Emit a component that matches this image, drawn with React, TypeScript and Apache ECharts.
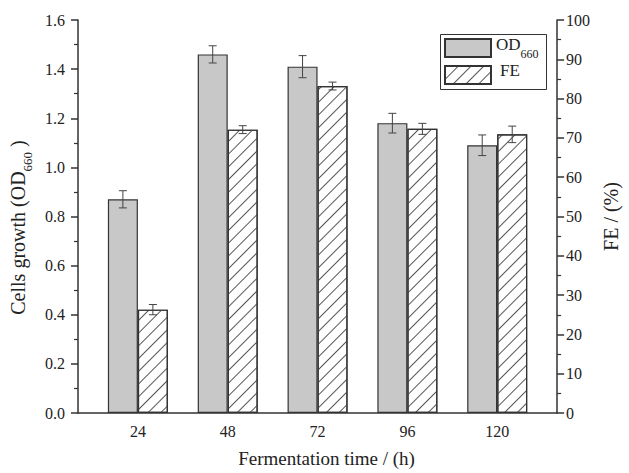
import React, { useEffect, useRef } from 'react';
import * as echarts from 'echarts';

const hours = [24, 48, 72, 96, 120];
const odValues = [0.87, 1.46, 1.41, 1.18, 1.09];
const odErrors = [0.035, 0.035, 0.045, 0.04, 0.042];
const feValues = [26.3, 72.1, 83.2, 72.3, 70.9];
const feErrors = [1.3, 1.0, 1.0, 1.4, 2.1];
const leftTicks = [0, 0.2, 0.4, 0.6, 0.8, 1.0, 1.2, 1.4, 1.6];
const rightTicks = [0, 10, 20, 30, 40, 50, 60, 70, 80, 90, 100];

const FONT = 'Liberation Serif';
const INK = '#333';
const TXT = '#222';
const BAR_W = 30;

function errorSeries(name: string, yAxisIndex: number, vals: number[], errs: number[], offset: number) {
  return {
    type: 'custom',
    name,
    xAxisIndex: 0,
    yAxisIndex,
    z: 10,
    silent: true,
    data: hours.map((h, i) => [h, vals[i], errs[i]]),
    renderItem: (params: any, api: any) => {
      const x = api.value(0);
      const y = api.value(1);
      const e = api.value(2);
      const top = api.coord([x, y + e]);
      const bot = api.coord([x, y - e]);
      const cx = top[0] + offset;
      const style = { stroke: '#444', lineWidth: 1 };
      return {
        type: 'group',
        children: [
          { type: 'line', shape: { x1: cx, y1: top[1], x2: cx, y2: bot[1] }, style },
          { type: 'line', shape: { x1: cx - 4, y1: top[1], x2: cx + 4, y2: top[1] }, style },
          { type: 'line', shape: { x1: cx - 4, y1: bot[1], x2: cx + 4, y2: bot[1] }, style },
        ],
      };
    },
  };
}

export default function App() {
  const ref = useRef<HTMLDivElement>(null);
  useEffect(() => {
    if (!ref.current) return;
    const chart = echarts.init(ref.current, null, { renderer: 'svg' });
    const axisLine = { show: true, lineStyle: { color: INK, width: 1.5 } };
    chart.setOption({
      animation: false,
      backgroundColor: '#fff',
      textStyle: { fontFamily: FONT, color: TXT },
      grid: { left: 76, right: 65, top: 20, bottom: 56 },
      legend: {
        orient: 'vertical',
        left: 438,
        top: 32,
        itemWidth: 46,
        itemHeight: 18,
        itemGap: 7,
        icon: 'rect',
        padding: [6, 0, 0, 6],
        data: ['OD660', 'FE'],
        formatter: () => '',
        textStyle: { fontSize: 1 },
      },
      graphic: [
        {
          type: 'rect',
          left: 438,
          top: 32,
          shape: { width: 106, height: 55 },
          style: { fill: 'none', stroke: INK, lineWidth: 1 },
          silent: true,
        },
        {
          type: 'text',
          left: 496,
          top: 36,
          style: {
            text: '{main|OD}{sub|660}',
            fontFamily: FONT,
            fill: TXT,
            rich: {
              main: { fontSize: 17, fontFamily: FONT, color: TXT, lineHeight: 24, verticalAlign: 'top' },
              sub: { fontSize: 12, fontFamily: FONT, color: TXT, lineHeight: 24, verticalAlign: 'bottom' },
            },
          },
          silent: true,
        },
        {
          type: 'text',
          left: 500,
          top: 62,
          style: { text: 'FE', fontFamily: FONT, fontSize: 17, fill: TXT },
          silent: true,
        },
      ],
      xAxis: {
        type: 'value',
        min: 8,
        max: 136,
        splitLine: { show: false },
        axisLine: { ...axisLine, onZero: false },
        axisTick: { show: false },
        axisLabel: {
          customValues: hours,
          fontSize: 16,
          fontFamily: FONT,
          color: TXT,
          margin: 10,
        },
        name: 'Fermentation time / (h)',
        nameLocation: 'middle',
        nameGap: 36,
        nameTextStyle: { fontSize: 19, fontFamily: FONT, color: TXT, padding: [0, 0, 0, 18] },
      },
      yAxis: [
        {
          type: 'value',
          min: 0,
          max: 1.6,
          interval: 0.2,
          position: 'left',
          splitLine: { show: false },
          axisLine,
          axisTick: { show: true, length: 7, lineStyle: { color: INK, width: 1.5 } },
          minorTick: { show: true, splitNumber: 2, length: 4, lineStyle: { color: INK, width: 1.2 } },
          axisLabel: {
            customValues: leftTicks,
            formatter: (v: number) => v.toFixed(1),
            fontSize: 16,
            fontFamily: FONT,
            color: TXT,
            margin: 13,
          },
          name: '{main|Cells growth (OD}{sub|660}{main| )}',
          nameLocation: 'middle',
          nameGap: 44,
          nameTextStyle: {
            fontFamily: FONT,
            color: TXT,
            padding: [0, 22, 0, 0],
            rich: {
              main: { fontSize: 20, fontFamily: FONT, color: TXT, lineHeight: 26, verticalAlign: 'top' },
              sub: { fontSize: 13, fontFamily: FONT, color: TXT, lineHeight: 26, verticalAlign: 'bottom' },
            },
          },
        },
        {
          type: 'value',
          min: 0,
          max: 100,
          interval: 10,
          position: 'right',
          splitLine: { show: false },
          axisLine,
          axisTick: { show: true, length: 7, lineStyle: { color: INK, width: 1.5 } },
          minorTick: { show: true, splitNumber: 2, length: 4, lineStyle: { color: INK, width: 1.2 } },
          axisLabel: {
            customValues: rightTicks,
            fontSize: 16,
            fontFamily: FONT,
            color: TXT,
            margin: 9,
          },
          name: 'FE / (%)',
          nameLocation: 'middle',
          nameRotate: 90,
          nameGap: 38,
          nameTextStyle: { fontSize: 20, fontFamily: FONT, color: TXT },
        },
      ],
      series: [
        {
          type: 'bar',
          name: 'OD660',
          xAxisIndex: 0,
          yAxisIndex: 0,
          barWidth: BAR_W,
          barGap: '0%',
          data: hours.map((h, i) => [h, odValues[i]]),
          itemStyle: { color: '#c8c8c8', borderColor: INK, borderWidth: 1.2 },
        },
        {
          type: 'bar',
          name: 'FE',
          xAxisIndex: 0,
          yAxisIndex: 1,
          barWidth: BAR_W,
          barGap: '0%',
          data: hours.map((h, i) => [h, feValues[i]]),
          itemStyle: {
            color: '#fff',
            borderColor: INK,
            borderWidth: 1.2,
            decal: {
              symbol: 'rect',
              symbolSize: 1,
              dashArrayX: [1, 0],
              dashArrayY: [1, 7.5],
              rotation: -Math.PI / 4,
              color: '#555',
            },
          },
        },
        errorSeries('odErr', 0, odValues, odErrors, -BAR_W / 2),
        errorSeries('feErr', 1, feValues, feErrors, BAR_W / 2),
      ],
    });
    return () => chart.dispose();
  }, []);
  return (
    <div
      ref={ref}
      style={{ position: 'fixed', left: 0, top: 0, width: 629, height: 473, background: '#fff' }}
    />
  );
}
